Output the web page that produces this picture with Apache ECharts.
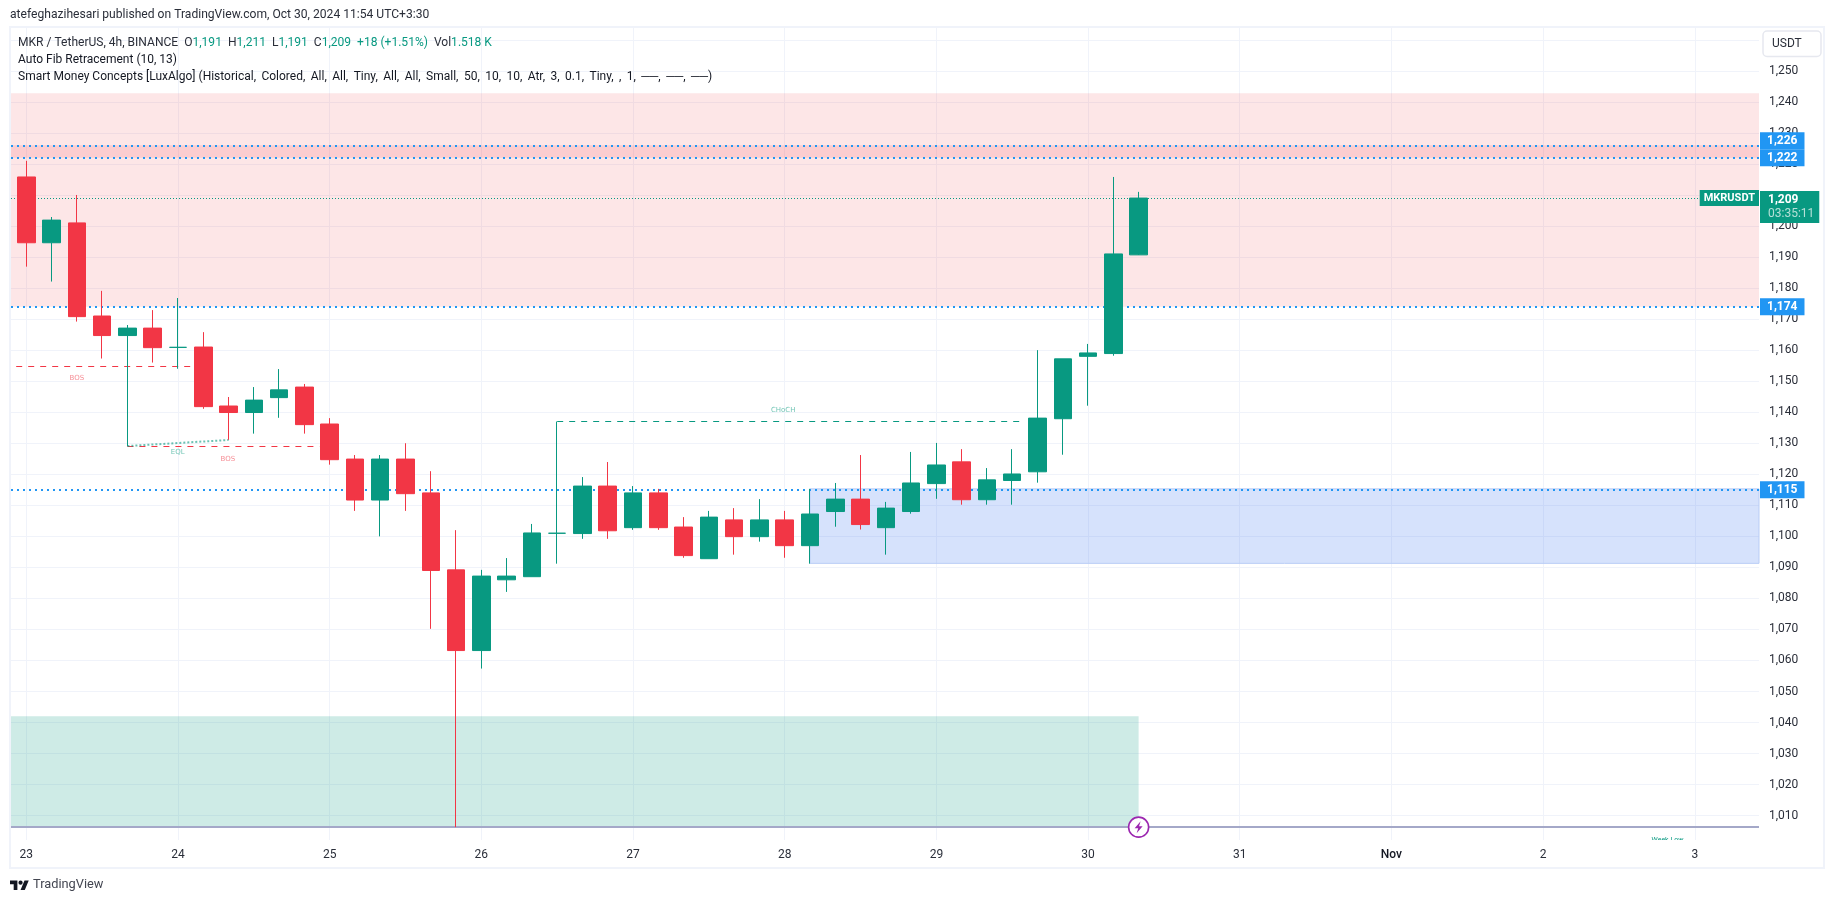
<!DOCTYPE html>
<html><head><meta charset="utf-8">
<style>html,body{margin:0;padding:0;background:#fff}#c{width:1835px;height:903px}</style>
<script src="https://cdn.jsdelivr.net/npm/echarts@6/dist/echarts.min.js"></script>
</head><body><div id="c"></div>
<script>
// 4h candles, index 0 = Oct 23 00:00, 6 bars per day
const opens  = [1215.8,1194.6,1201,1171,1164.7,1167.1,1160.9,1161,1142,1139.9,1144.7,1148.1,1136.2,1124.9,1111.7,1124.9,1114,1089.2,1063.2,1086,1087,1101,1100.9,1116.2,1102.8,1114,1103,1092.8,1105.3,1099.9,1105.3,1097,1108,1112,1102.8,1108,1117,1124,1111.8,1118,1120.8,1137.9,1158,1158.9,1190.7];
const closes = [1194.6,1201.9,1170.8,1164.7,1167.1,1160.8,1160.9,1141.8,1139.9,1143.9,1147.2,1136,1124.7,1111.7,1124.9,1113.75,1089,1063.2,1087.2,1087.2,1101.1,1101,1116.2,1101.8,1114,1102.8,1093.8,1106.2,1099.9,1105.3,1097,1107.2,1112,1103.8,1109.1,1117.2,1123,1111.8,1118.2,1120.1,1138.1,1157.2,1159.1,1191,1209];
const lows   = [1186.9,1182.1,1169.2,1157.3,1129.1,1156,1154,1141.1,1131.1,1133.1,1138.2,1133.1,1123.1,1108.2,1100,1108.2,1070.2,1006.3,1057.4,1082.1,1087,1091.2,1099.2,1099.2,1102.1,1102.1,1093.1,1092.8,1094.1,1098.3,1093.1,1091.2,1103.1,1102.2,1094.1,1107.3,1112.1,1110.2,1110.2,1110.2,1117.3,1126.3,1142.1,1158.2,1191];
const highs  = [1221,1202.9,1210,1179.1,1168.1,1172.9,1176.8,1165.8,1144.9,1148.1,1153.9,1149.1,1138.1,1126.2,1126.2,1130,1121,1102,1089.2,1093,1104,1137,1119.1,1123.95,1116.2,1115.3,1106.2,1108.2,1109.1,1112,1108.2,1115.3,1117.2,1126.2,1111.1,1127.2,1130.1,1128.1,1122,1128.1,1160,1157.2,1162,1215.8,1211];
const dayLabels = ['23','24','25','26','27','28','29','30','31','Nov','2','3'];
const priceTicks = [1010,1020,1030,1040,1050,1060,1070,1080,1090,1100,1110,1120,1130,1140,1150,1160,1170,1180,1190,1200,1220,1230,1240,1250];
const priceGrid = [...priceTicks,1210,1260];
const fibLevels = [1226,1222,1174,1115];
const lastPrice = 1209, bottomLine = 1006.3;
const xMin=-0.605, xMax=68.54, yMin=1002.16, yMax=1263.8;
const zones = [
 {x:[xMin,xMax],y:[1174,1242.8],c:'rgba(240,80,85,0.14)'},
 {x:[xMin,xMax],y:[1222,1226],c:'rgba(242,54,69,0.14)'},
 {x:[31,xMax],y:[1091.3,1115.3],c:'rgba(50,110,240,0.2)',b:'#b9cdf6'},
 {x:[xMin,44],y:[bottomLine,1042],c:'rgba(8,153,129,0.2)'}
];
const structureLines = [
 {x:[-0.4,6.65],y:[1154.8,1154.8],c:'#f23645',d:[6,6]},
 {x:[4,11.6],y:[1129.1,1129.1],c:'#f23645',d:[6,6]},
 {x:[21,39.5],y:[1137.1,1137.1],c:'#089981',d:[6,6]}
];
const eqlLine = {x:[4,8],y:[1129.1,1131.05]};
const structureTexts = [
 {t:'BOS',x:2,y:1151,c:'#f4707b'},{t:'BOS',x:7.97,y:1125,c:'#f4707b'},
 {t:'EQL',x:5.99,y:1127,c:'#4db6a2'},{t:'CHoCH',x:29.94,y:1140.8,c:'#4db6a2'}
];
const GREEN='#089981', RED='#f23645', BLUE='#2196f3', TXT='#2a2e39', FONT='Roboto';

const candleData = opens.map((o,i)=>[i,o,closes[i],lows[i],highs[i]]);
const chart = echarts.init(document.getElementById('c'),null,{renderer:'canvas'});
const fmtPrice = v => String(v).replace(/(\d)(\d{3})$/,'$1,$2');
const boltPath = 'path://M7 0 L1 7 L4.6 7 L3 12 L9 5 L5.4 5 Z';
const L = 19/36, lx = x=>10+x*L, ly = y=>878.5+y*L;
const logoT = [[0,4],[14,4],[14,22],[7,22],[7,11],[0,11]].map(p=>[lx(p[0]),ly(p[1])]);
const logoS = [[20,22],[27.5,4],[35.5,4],[28,22]].map(p=>[lx(p[0]),ly(p[1])]);
const tagOffset = {1226:[0,-4.5]};
const smcArgs = 'Historical, Colored, All, All, Tiny, All, All, Small, 50, 10, 10, Atr, 3, 0.1, Tiny, , 1, ──, ──, ──'.replace(/, /g,',\u200a\u200a ');

chart.setOption({
 animation:false, backgroundColor:'#fff',
 textStyle:{fontFamily:FONT},
 grid:{left:11,right:76,top:28,bottom:63,containLabel:false},
 xAxis:{type:'value',min:xMin,max:xMax,
  axisLine:{show:false},
  axisTick:{show:false,customValues:dayLabels.map((d,i)=>i*6)},
  splitLine:{show:true,lineStyle:{color:'#f0f3fa',width:1}},
  axisLabel:{customValues:dayLabels.map((d,i)=>i*6),color:TXT,fontSize:12,margin:9,fontFamily:FONT,
   formatter:v=>{const s=dayLabels[Math.round(v/6)];return s==='Nov'?'{b|Nov}':s;},
   rich:{b:{fontWeight:500,color:'#131722',fontSize:12,fontFamily:FONT}}}},
 yAxis:{type:'value',position:'right',min:yMin,max:yMax,
  axisLine:{show:false},
  axisTick:{show:false,customValues:priceGrid},
  splitLine:{show:true,lineStyle:{color:'#f0f3fa',width:1}},
  axisLabel:{customValues:priceTicks,color:TXT,fontSize:12,margin:10,fontFamily:FONT,padding:[2,0,0,0],formatter:fmtPrice}},
 series:[
  {type:'line',name:'fib',data:[],z:1,clip:false,
   markLine:{silent:true,symbol:'none',animation:false,
    lineStyle:{color:BLUE,type:[2,4],width:2},
    data:fibLevels.map(v=>({yAxis:v,label:{show:true,position:'end',distance:1,offset:tagOffset[v]||[0,0],formatter:fmtPrice(v),
      backgroundColor:BLUE,color:'#fff',fontWeight:'bold',fontSize:12,fontFamily:FONT,padding:[2,7,2,7],lineHeight:13}}))}},
  {type:'line',name:'zones',data:[],z:2,
   markArea:{silent:true,animation:false,
    data:zones.map(z=>[{coord:[z.x[0],z.y[1]],itemStyle:{color:z.c,borderColor:z.b||'transparent',borderWidth:z.b?1:0}},{coord:[z.x[1],z.y[0]]}])}},
  {type:'line',name:'structure',data:[],z:3,
   markLine:{silent:true,symbol:'none',animation:false,label:{show:false},
    data:[...structureLines.map(l=>[{coord:[l.x[0],l.y[0]],lineStyle:{color:l.c,type:l.d,width:1}},{coord:[l.x[1],l.y[1]]}]),
     [{coord:[eqlLine.x[0],eqlLine.y[0]],lineStyle:{color:'rgba(8,153,129,0.6)',type:[2,2],width:2}},{coord:[eqlLine.x[1],eqlLine.y[1]]}],
     [{coord:[xMin,bottomLine],lineStyle:{color:'#a4a8c8',type:'solid',width:2}},{coord:[xMax,bottomLine]}]]}},
  {type:'candlestick',name:'MKRUSDT',z:5,barWidth:18,
   data:candleData,encode:{x:0,y:[1,2,3,4]},
   itemStyle:{color:GREEN,color0:RED,borderColor:GREEN,borderColor0:RED,borderColorDoji:GREEN,borderWidth:1}},
  {type:'line',name:'last',data:[],z:6,clip:false,
   markLine:{silent:true,symbol:'none',animation:false,
    lineStyle:{color:GREEN,type:[1,2],width:1},
    data:[{yAxis:lastPrice,label:{show:true,position:'end',distance:1,offset:[0,9],
      formatter:'{a|1,209}\n{b|03:35:11}',backgroundColor:GREEN,padding:[2,5,3,8],
      rich:{a:{color:'#fff',fontWeight:'bold',fontSize:12,fontFamily:FONT,lineHeight:14},b:{color:'#b5e0d7',fontSize:12,fontFamily:FONT,lineHeight:13}}}},
     {yAxis:lastPrice,label:{show:true,position:'insideEnd',distance:0,formatter:'MKRUSDT',
      backgroundColor:GREEN,color:'#fff',fontWeight:'bold',fontSize:11,fontFamily:FONT,padding:[3,4,2,4]}}]}},
  {type:'scatter',name:'labels',z:7,symbolSize:0,silent:true,
   data:structureTexts.map(s=>({value:[s.x,s.y],label:{show:true,position:'inside',formatter:s.t,color:s.c,fontSize:7,fontFamily:'DejaVu Sans'}}))},
  {type:'custom',name:'weeklow',z:7,clip:true,silent:true,data:[[64.92,1002.2]],
   encode:{x:0,y:1},
   renderItem:(p,api)=>{const c=api.coord([api.value(0),api.value(1)]);
    return {type:'text',style:{x:c[0],y:c[1],text:'Week Low',fill:GREEN,fontSize:7,align:'center',verticalAlign:'middle',fontFamily:FONT}};}},
  {type:'scatter',name:'eventCircle',z:8,silent:true,data:[[44,bottomLine]],symbol:'circle',symbolSize:20,
   itemStyle:{color:'#fff',borderColor:'#9c27b0',borderWidth:1.6,opacity:1}},
  {type:'scatter',name:'eventBolt',z:9,silent:true,data:[[44,bottomLine]],symbol:boltPath,symbolSize:[8,12],
   itemStyle:{color:'#9c27b0',opacity:1}}
 ],
 graphic:[
  {type:'rect',z:0,silent:true,shape:{x:10,y:27,width:1814,height:841},style:{fill:'none',stroke:'#f0f3fa',lineWidth:2}},
  {type:'text',left:10,top:9,style:{text:'atefeghazihesari published on TradingView.com, Oct 30, 2024 11:54 UTC+3:30',fill:'#2a2e39',font:'12.1px Roboto'}},
  {type:'text',left:18,top:36.5,z:20,style:{
    text:'{d|MKR / TetherUS, 4h, BINANCE  O}{g|1,191}{d|  H}{g|1,211}{d|  L}{g|1,191}{d|  C}{g|1,209  +18 (+1.51%)}{d|  Vol}{g|1.518 K}',
    rich:{d:{fill:'#2a2e39',font:'12.05px Roboto'},g:{fill:GREEN,font:'12.05px Roboto'}}}},
  {type:'text',left:18,top:53.5,z:20,style:{text:'Auto Fib Retracement (10, 13)',fill:'#131722',font:'12px Roboto'}},
  {type:'text',left:18,top:70.5,z:20,style:{text:'Smart Money Concepts [LuxAlgo] ('+smcArgs+')',fill:'#131722',font:'12px Roboto'}},
  {type:'rect',z:20,shape:{x:1763,y:31,width:58,height:25.5,r:4},style:{fill:'#fff',stroke:'#e6e8ef',lineWidth:1.5}},
  {type:'text',z:21,left:1772,top:38,style:{text:'USDT',fill:'#2a2e39',font:'12px Roboto'}},
  {type:'polygon',z:20,shape:{points:logoT},style:{fill:'#131722'}},
  {type:'polygon',z:20,shape:{points:logoS},style:{fill:'#131722'}},
  {type:'circle',z:20,shape:{cx:lx(20),cy:ly(8),r:4*L},style:{fill:'#131722'}},
  {type:'text',left:33,top:878.5,style:{text:'TradingView',fill:'#434651',font:'12.8px Roboto'}}
 ]
});
</script></body></html>
